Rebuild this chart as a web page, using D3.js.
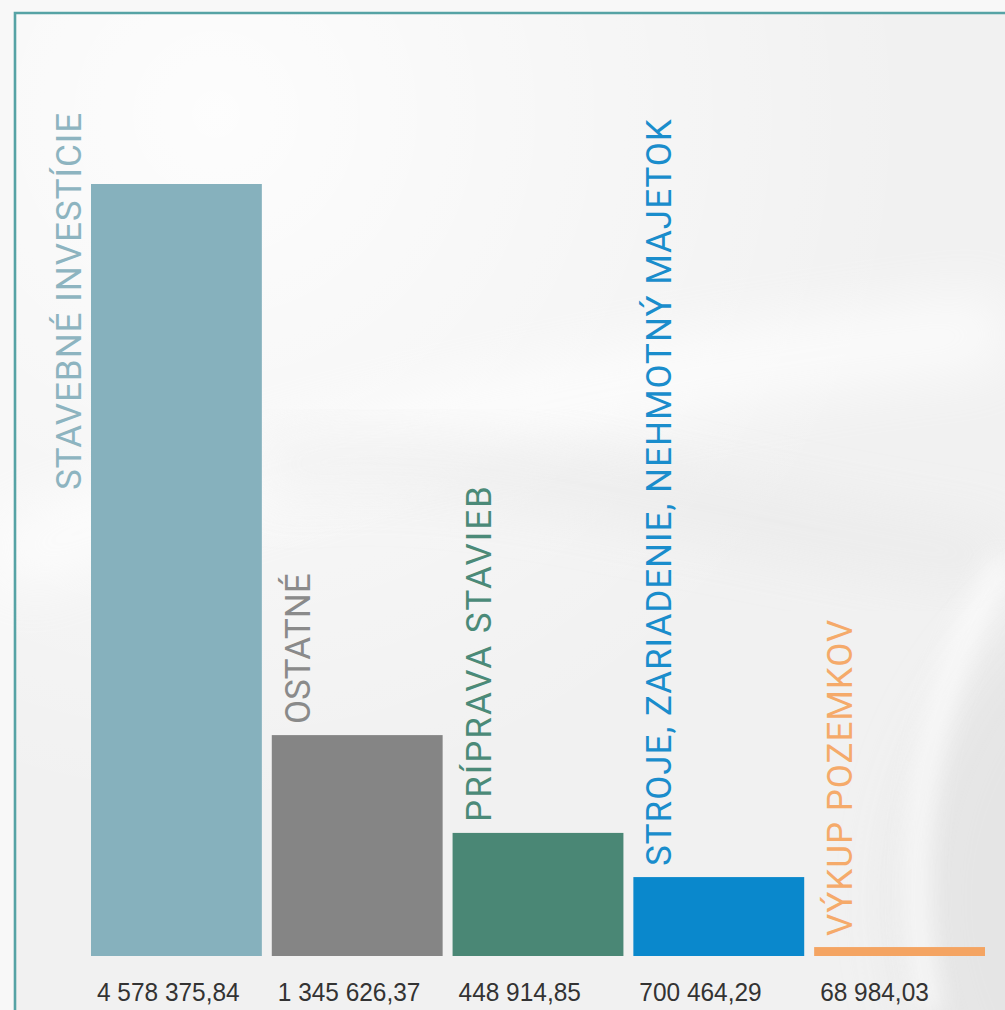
<!DOCTYPE html>
<html>
<head>
<meta charset="utf-8">
<script src="https://cdn.jsdelivr.net/npm/d3@7"></script>
<style>
  html, body { margin: 0; padding: 0; background: #f7f7f7; }
  svg { display: block; }
</style>
</head>
<body>
<svg id="chart" width="1005" height="1010"></svg>
<script>
// ---- data ----
const categories = ["STAVEBNÉ INVESTÍCIE", "OSTATNÉ", "PRÍPRAVA STAVIEB",
                    "STROJE, ZARIADENIE, NEHMOTNÝ MAJETOK", "VÝKUP POZEMKOV"];
// bar heights as drawn in the picture (EUR)
const barValues = [4578376, 1310000, 730000, 468000, 53000];
// value labels printed under the bars
const valueLabels = ["4 578 375,84", "1 345 626,37", "448 914,85", "700 464,29", "68 984,03"];
const barColors = ["#86b1bd", "#858585", "#4a8775", "#0a88cc", "#f4a462"];
const labelColors = ["#8db4c0", "#8a8a8a", "#4b8a78", "#1a8dcc", "#f5aa6a"];

// ---- layout ----
const W = 1005, H = 1010;
const baseY = 956, topY = 184;
const svg = d3.select("#chart");
const defs = svg.append("defs");

defs.append("filter").attr("id", "blur").attr("x", "-50%").attr("y", "-50%")
  .attr("width", "200%").attr("height", "200%")
  .append("feGaussianBlur").attr("stdDeviation", 30);
defs.append("filter").attr("id", "blur2").attr("x", "-50%").attr("y", "-50%")
  .attr("width", "200%").attr("height", "200%")
  .append("feGaussianBlur").attr("stdDeviation", 12);

const rg = defs.append("radialGradient").attr("id", "glow")
  .attr("cx", 0.2).attr("cy", 0.1).attr("r", 0.7);
rg.append("stop").attr("offset", "0%").attr("stop-color", "#ffffff").attr("stop-opacity", 0.85);
rg.append("stop").attr("offset", "100%").attr("stop-color", "#ffffff").attr("stop-opacity", 0);

// background
svg.append("rect").attr("width", W).attr("height", H).attr("fill", "#f8f8f8");
const bg = svg.append("g");
bg.append("rect").attr("x", 15).attr("y", 13).attr("width", W).attr("height", H)
  .attr("fill", "#f1f1f1");
bg.append("rect").attr("x", 15).attr("y", 13).attr("width", W).attr("height", H)
  .attr("fill", "url(#glow)");
bg.append("path")
  .attr("d", "M0,560 C250,470 550,380 1005,330")
  .attr("fill", "none").attr("stroke", "#ffffff").attr("stroke-width", 70)
  .attr("opacity", 0.75).attr("filter", "url(#blur)");
bg.append("path")
  .attr("d", "M260,470 C450,430 700,520 1005,560")
  .attr("fill", "none").attr("stroke", "#e6e6e6").attr("stroke-width", 40)
  .attr("opacity", 0.7).attr("filter", "url(#blur)");
bg.append("circle").attr("cx", 1280).attr("cy", 900).attr("r", 380)
  .attr("fill", "#e4e4e4").attr("opacity", 0.9).attr("filter", "url(#blur)");
bg.append("path")
  .attr("d", "M930,1010 C900,860 920,700 1005,560")
  .attr("fill", "none").attr("stroke", "#ffffff").attr("stroke-width", 20)
  .attr("opacity", 0.8).attr("filter", "url(#blur2)");
bg.append("path")
  .attr("d", "M0,980 L1005,980")
  .attr("fill", "none").attr("stroke", "#ffffff").attr("stroke-width", 60)
  .attr("opacity", 0.35).attr("filter", "url(#blur)");

// frame
svg.append("path")
  .attr("d", `M15,${H} L15,13 L${W},13`)
  .attr("fill", "none").attr("stroke", "#56a3a5").attr("stroke-width", 2.6);

// scales
const x = d3.scaleBand().domain(categories).range([91, 985])
  .paddingInner(0.055).paddingOuter(0);
const y = d3.scaleLinear().domain([0, d3.max(barValues)]).range([baseY, topY]);

const data = categories.map((c, i) => ({
  cat: c, value: barValues[i], label: valueLabels[i],
  color: barColors[i], lcolor: labelColors[i], i
}));

// bars
svg.append("g").selectAll("rect").data(data).join("rect")
  .attr("x", d => x(d.cat))
  .attr("y", d => y(d.value))
  .attr("width", x.bandwidth())
  .attr("height", d => baseY - y(d.value))
  .attr("fill", d => d.color);

// category labels (rotated)
svg.append("g").selectAll("text").data(data).join("text")
  .attr("transform", d => {
    const tx = d.i === 0 ? x(d.cat) - 10 : x(d.cat) + 38;
    const ty = d.i === 0 ? 490 : y(d.value) - 11;
    return `translate(${tx},${ty}) rotate(-90)`;
  })
  .attr("text-anchor", "start")
  .attr("font-family", "Roboto, 'DejaVu Sans', sans-serif")
  .attr("font-weight", 400)
  .attr("font-size", 35)
  .attr("letter-spacing", d => d.i === 1 ? 0 : (d.i === 2 ? 2 : 1))
  .attr("fill", d => d.lcolor)
  .text(d => d.cat);

// value labels
svg.append("g").selectAll("text").data(data).join("text")
  .attr("transform", d => `translate(${x(d.cat) + 6},1001) scale(0.94,1)`)
  .attr("font-family", "'Liberation Sans', Arial, sans-serif")
  .attr("font-size", 26)
  .attr("fill", "#333333")
  .text(d => d.label);
</script>
</body>
</html>
